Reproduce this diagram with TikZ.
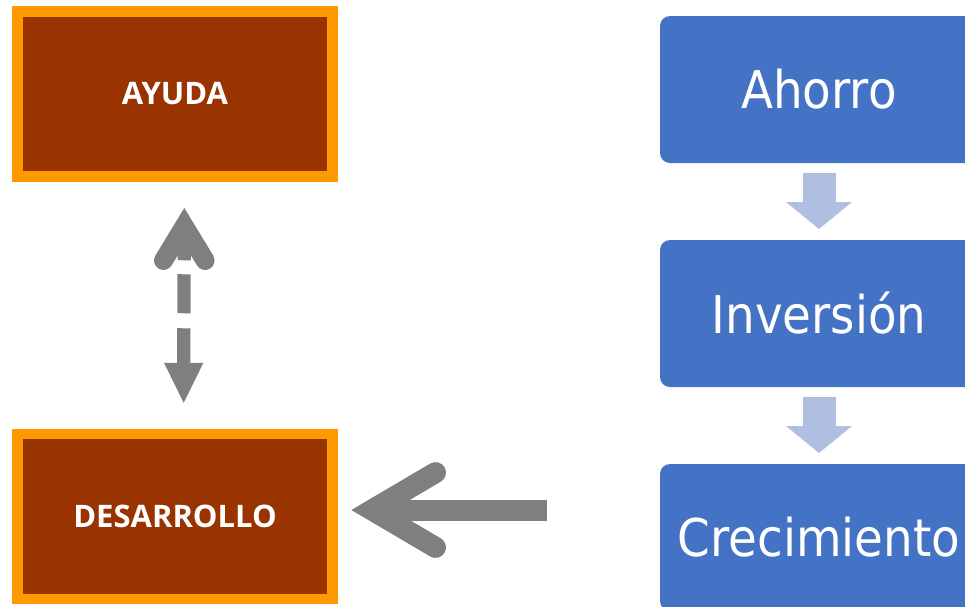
\documentclass[tikz,border=0pt]{standalone}
\usepackage{fontspec}
\setmainfont{Open Sans}
\newfontfamily\flowfont{DejaVu Sans}[FakeStretch=0.9]
\usetikzlibrary{positioning, calc, arrows.meta}
\definecolor{ayudaorange}{HTML}{FF9900}
\definecolor{ayudabrown}{HTML}{993300}
\definecolor{flowblue}{HTML}{4472C4}
\definecolor{flowlight}{HTML}{B0BEE0}
\definecolor{arrowgray}{HTML}{7F7F7F}

\begin{document}
\begin{tikzpicture}[x=1pt, y=-1pt,
    redbox/.style={draw=ayudaorange, line width=10.5pt, outer sep=0pt, fill=ayudabrown, minimum width=315pt, minimum height=165pt, text=white, font=\fontsize{31}{36}\selectfont\bfseries},
    flowbox/.style={fill=flowblue, rounded corners=10pt, outer sep=0pt, minimum width=318pt, minimum height=147pt, text=white, font=\flowfont\fontsize{52}{60}\selectfont},
    flowarrow/.style={draw=flowlight, line width=33pt, -{Triangle[length=27pt, width=66pt, line width=0pt]}, shorten <=10pt, shorten >=11pt},
    grayline/.style={draw=arrowgray},
    grayhead/.style={draw=arrowgray, line cap=round, line join=miter}]
\useasboundingbox (0,0) rectangle (965,606);
\clip (0,0) rectangle (965,606);

% left column
\node[redbox] (ayuda) at (175,93.75) {AYUDA};
\node[redbox] (desarrollo) at (175,516.5) {DESARROLLO};

% right column
\node[flowbox] (ahorro) at (819,89.5) {Ahorro};
\node[flowbox, below=77pt of ahorro] (inversion) {Inversión};
\node[flowbox, below=77pt of inversion] (crecimiento) {Crecimiento};

\draw[flowarrow] (ahorro) -- (inversion);
\draw[flowarrow] (inversion) -- (crecimiento);

% dashed double arrow
\coordinate (dtop) at ($(ayuda.south)+(9.3,50)$);
\coordinate (dbot) at ($(desarrollo.north)+(8.7,-31.2)$);
\draw[grayline, line width=13.3pt, dash pattern=on 34pt off 14pt on 39pt off 15pt on 60pt off 0pt] (dtop) -- ($(dbot)+(0,-40)$);
\fill[arrowgray] (dbot) -- ++(-19.7,-40) -- ++(39.4,0) -- cycle;
\draw[grayhead, line width=19pt] ($(dtop)+(-20.8,34.2)$) -- (dtop) -- ($(dtop)+(20.8,34.2)$);

% arrow to desarrollo
\coordinate (ltail) at ($(crecimiento.west)+(-113,-27.5)$);
\coordinate (ltip) at ($(desarrollo.east)+(39.5,-6.5)$);
\draw[grayline, line width=21pt] (ltail) -- (ltip);
\draw[grayhead, line width=21pt] ($(ltip)+(63.5,-37.4)$) -- (ltip) -- ($(ltip)+(63.5,37.4)$);
\end{tikzpicture}
\end{document}
